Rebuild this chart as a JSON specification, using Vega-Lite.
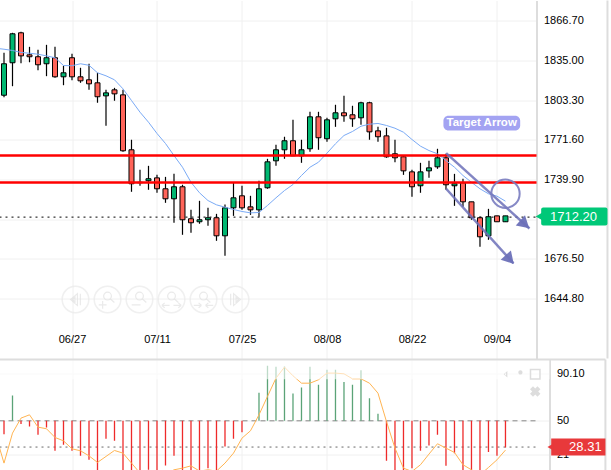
{"$schema":"https://vega.github.io/schema/vega-lite/v6.json","padding":{"left":-2.5,"top":-0.5,"right":0,"bottom":0},"background":"#ffffff","spacing":-1.5,"config":{"view":{"stroke":null},"font":"Liberation Sans"},
"datasets":{
"candles":[
{"i":0,"o":1807.1,"c":1832.2,"h":1840.9,"l":1805.5,"d":"up"},{"i":1,"o":1833.0,"c":1856.1,"h":1856.9,"l":1814.3,"d":"up"},{"i":2,"o":1856.9,"c":1838.5,"h":1857.7,"l":1832.6,"d":"down"},{"i":3,"o":1839.3,"c":1837.8,"h":1845.7,"l":1833.4,"d":"down"},{"i":4,"o":1837.8,"c":1831.4,"h":1843.3,"l":1827.1,"d":"down"},{"i":5,"o":1832.2,"c":1837.0,"h":1847.3,"l":1822.3,"d":"up"},{"i":6,"o":1837.0,"c":1821.8,"h":1845.7,"l":1821.0,"d":"down"},{"i":7,"o":1821.8,"c":1825.0,"h":1830.6,"l":1815.1,"d":"up"},{"i":8,"o":1837.0,"c":1821.8,"h":1840.1,"l":1819.1,"d":"down"},{"i":9,"o":1821.8,"c":1818.6,"h":1829.0,"l":1817.0,"d":"down"},
{"i":10,"o":1819.4,"c":1816.2,"h":1832.2,"l":1811.4,"d":"down"},{"i":11,"o":1817.0,"c":1805.9,"h":1825.0,"l":1801.1,"d":"down"},{"i":12,"o":1806.6,"c":1809.0,"h":1811.4,"l":1782.7,"d":"up"},{"i":13,"o":1811.4,"c":1808.2,"h":1813.0,"l":1802.7,"d":"down"},{"i":14,"o":1807.4,"c":1762.8,"h":1811.4,"l":1762.0,"d":"down"},{"i":15,"o":1763.6,"c":1736.5,"h":1771.6,"l":1730.1,"d":"down"},{"i":16,"o":1737.7,"c":1737.3,"h":1747.6,"l":1734.9,"d":"down"},{"i":17,"o":1738.9,"c":1740.5,"h":1750.8,"l":1731.7,"d":"up"},{"i":18,"o":1741.2,"c":1732.5,"h":1743.6,"l":1729.3,"d":"down"},{"i":19,"o":1732.5,"c":1724.5,"h":1742.0,"l":1721.3,"d":"down"},
{"i":20,"o":1724.5,"c":1734.1,"h":1744.4,"l":1705.4,"d":"up"},{"i":21,"o":1734.1,"c":1707.8,"h":1735.7,"l":1695.8,"d":"down"},{"i":22,"o":1708.6,"c":1705.4,"h":1715.7,"l":1697.4,"d":"down"},{"i":23,"o":1706.2,"c":1707.8,"h":1722.9,"l":1704.6,"d":"up"},{"i":24,"o":1707.8,"c":1709.4,"h":1717.3,"l":1703.0,"d":"up"},{"i":25,"o":1709.4,"c":1695.0,"h":1712.5,"l":1691.0,"d":"down"},{"i":26,"o":1695.0,"c":1717.3,"h":1720.0,"l":1679.0,"d":"up"},{"i":27,"o":1717.3,"c":1725.3,"h":1737.3,"l":1710.9,"d":"up"},{"i":28,"o":1726.9,"c":1717.3,"h":1734.9,"l":1715.7,"d":"down"},{"i":29,"o":1718.1,"c":1715.7,"h":1726.9,"l":1711.7,"d":"down"},
{"i":30,"o":1715.7,"c":1732.5,"h":1738.9,"l":1710.2,"d":"up"},{"i":31,"o":1733.3,"c":1754.0,"h":1756.4,"l":1732.5,"d":"up"},{"i":32,"o":1754.8,"c":1763.6,"h":1767.6,"l":1750.8,"d":"up"},{"i":33,"o":1763.6,"c":1770.8,"h":1774.0,"l":1756.4,"d":"up"},{"i":34,"o":1770.8,"c":1758.8,"h":1787.5,"l":1758.8,"d":"down"},{"i":35,"o":1758.8,"c":1763.6,"h":1771.6,"l":1753.2,"d":"up"},{"i":36,"o":1764.4,"c":1789.9,"h":1793.9,"l":1762.0,"d":"up"},{"i":37,"o":1789.9,"c":1773.2,"h":1793.9,"l":1763.6,"d":"down"},{"i":38,"o":1772.4,"c":1787.5,"h":1789.1,"l":1770.0,"d":"up"},{"i":39,"o":1788.3,"c":1793.1,"h":1799.5,"l":1781.9,"d":"up"},
{"i":40,"o":1793.1,"c":1790.7,"h":1806.6,"l":1785.9,"d":"down"},{"i":41,"o":1791.5,"c":1788.3,"h":1798.7,"l":1781.9,"d":"down"},{"i":42,"o":1789.1,"c":1801.1,"h":1801.9,"l":1783.5,"d":"up"},{"i":43,"o":1801.1,"c":1777.9,"h":1801.9,"l":1771.6,"d":"down"},{"i":44,"o":1778.7,"c":1774.0,"h":1781.9,"l":1770.0,"d":"down"},{"i":45,"o":1774.7,"c":1758.0,"h":1781.1,"l":1757.2,"d":"down"},{"i":46,"o":1760.4,"c":1757.2,"h":1771.6,"l":1753.7,"d":"down"},{"i":47,"o":1758.0,"c":1746.8,"h":1759.0,"l":1743.6,"d":"down"},{"i":48,"o":1746.0,"c":1734.1,"h":1747.6,"l":1726.1,"d":"down"},{"i":49,"o":1734.9,"c":1746.0,"h":1753.2,"l":1729.3,"d":"up"},
{"i":50,"o":1746.8,"c":1749.2,"h":1754.8,"l":1741.2,"d":"up"},{"i":51,"o":1750.0,"c":1757.2,"h":1764.4,"l":1748.4,"d":"up"},{"i":52,"o":1757.2,"c":1735.7,"h":1760.4,"l":1731.7,"d":"down"},{"i":53,"o":1734.9,"c":1736.5,"h":1744.4,"l":1718.9,"d":"up"},{"i":54,"o":1737.3,"c":1722.1,"h":1740.5,"l":1718.1,"d":"down"},{"i":55,"o":1722.1,"c":1709.4,"h":1722.1,"l":1707.8,"d":"down"},{"i":56,"o":1709.4,"c":1694.2,"h":1710.4,"l":1686.2,"d":"down"},{"i":57,"o":1695.0,"c":1710.2,"h":1716.5,"l":1691.8,"d":"up"},{"i":58,"o":1710.9,"c":1706.2,"h":1710.9,"l":1706.2,"d":"down"},{"i":59,"o":1706.2,"c":1710.9,"h":1710.9,"l":1706.2,"d":"up"}],
"ma":[{"i":-0.53,"p":1844.2},{"i":0,"p":1843.8},{"i":1,"p":1842.8},{"i":2,"p":1841.2},{"i":3,"p":1840.6},{"i":4,"p":1839.8},{"i":5,"p":1838.5},{"i":6,"p":1837.0},{"i":7,"p":1830.8},{"i":8,"p":1830.6},{"i":9,"p":1832.2},{"i":10,"p":1831.0},{"i":11,"p":1825.0},{"i":12,"p":1822.6},{"i":13,"p":1819.4},{"i":14,"p":1812.2},{"i":15,"p":1802.9},{"i":16,"p":1793.6},{"i":17,"p":1785.6},{"i":18,"p":1776.6},{"i":19,"p":1768.6},{"i":20,"p":1759.0},{"i":21,"p":1749.7},{"i":22,"p":1737.7},{"i":23,"p":1729.3},{"i":24,"p":1723.1},{"i":25,"p":1719.7},{"i":26,"p":1717.8},{"i":27,"p":1716.0},{"i":28,"p":1714.4},{"i":29,"p":1713.3},{"i":30,"p":1713.6},{"i":31,"p":1719.2},{"i":32,"p":1725.3},{"i":33,"p":1731.1},{"i":34,"p":1735.9},{"i":35,"p":1743.1},{"i":36,"p":1749.7},{"i":37,"p":1753.7},{"i":38,"p":1760.9},{"i":39,"p":1768.4},{"i":40,"p":1775.0},{"i":41,"p":1778.2},{"i":42,"p":1782.4},{"i":43,"p":1784.0},{"i":44,"p":1784.6},{"i":45,"p":1783.0},{"i":46,"p":1780.8},{"i":47,"p":1777.6},{"i":48,"p":1771.8},{"i":49,"p":1766.5},{"i":50,"p":1763.0},{"i":51,"p":1760.4},{"i":52,"p":1755.0},{"i":53,"p":1749.7},{"i":54,"p":1743.1},{"i":55,"p":1737.7},{"i":56,"p":1732.5},{"i":57,"p":1728.5},{"i":58,"p":1726.6},{"i":59,"p":1722.6}],
"hist":[{"i":0,"v":38.6},{"i":1,"v":71.6},{"i":2,"v":47.2},{"i":3,"v":45.2},{"i":4,"v":38.1},{"i":5,"v":44.3},{"i":6,"v":24.4},{"i":7,"v":29.5},{"i":8,"v":24.4},{"i":9,"v":20.1},{"i":10,"v":16.7},{"i":11,"v":3},{"i":12,"v":34.6},{"i":13,"v":32.9},{"i":14,"v":5},{"i":15,"v":5},{"i":16,"v":5},{"i":17,"v":8.2},{"i":18,"v":6.8},{"i":19,"v":11.9},{"i":20,"v":20.1},{"i":21,"v":7.4},{"i":22,"v":5},{"i":23,"v":7.6},{"i":24,"v":9.6},{"i":25,"v":7.6},{"i":26,"v":28.1},{"i":27,"v":34.6},{"i":28,"v":40.3},{"i":30,"v":73.9},{"i":31,"v":96.9},{"i":32,"v":96.1},{"i":33,"v":96.3},{"i":34,"v":73.3},{"i":35,"v":78.4},{"i":36,"v":96.1},{"i":37,"v":80.7},{"i":38,"v":93.5},{"i":39,"v":93.5},{"i":40,"v":83},{"i":41,"v":80.7},{"i":42,"v":93.2},{"i":43,"v":69.3},{"i":44,"v":56},{"i":45,"v":15.9},{"i":46,"v":5},{"i":47,"v":5},{"i":48,"v":9.6},{"i":49,"v":24.4},{"i":50,"v":29},{"i":51,"v":38.1},{"i":52,"v":11.6},{"i":53,"v":22.4},{"i":54,"v":5},{"i":55,"v":5},{"i":56,"v":5},{"i":57,"v":23.3},{"i":58,"v":20.1},{"i":59,"v":27.3}],
"osc":[{"i":-0.53,"p":27},{"i":0,"p":13.9},{"i":1,"p":39.5},{"i":2,"p":52.3},{"i":3,"p":55.1},{"i":4,"p":44.6},{"i":5,"p":43.2},{"i":6,"p":35.8},{"i":7,"p":32.9},{"i":8,"p":26.1},{"i":9,"p":24.4},{"i":10,"p":20.1},{"i":11,"p":14.5},{"i":12,"p":19.6},{"i":13,"p":24.7},{"i":14,"p":22.4},{"i":15,"p":13.9},{"i":16,"p":5.4},{"i":17,"p":-0.3},{"i":18,"p":-0.3},{"i":19,"p":3.9},{"i":20,"p":8.2},{"i":21,"p":9.6},{"i":22,"p":11.6},{"i":23,"p":7.1},{"i":24,"p":8.2},{"i":25,"p":7.1},{"i":26,"p":13.9},{"i":27,"p":22.4},{"i":28,"p":35.2},{"i":29,"p":41.5},{"i":30,"p":55.1},{"i":31,"p":70.8},{"i":32,"p":86.4},{"i":33,"p":95.8},{"i":34,"p":88.4},{"i":35,"p":82.1},{"i":36,"p":82.1},{"i":37,"p":85},{"i":38,"p":90.7},{"i":39,"p":90.7},{"i":40,"p":90.1},{"i":41,"p":85.8},{"i":42,"p":85.8},{"i":43,"p":82.1},{"i":44,"p":73.6},{"i":45,"p":49.4},{"i":46,"p":26.7},{"i":47,"p":9.6},{"i":48,"p":6.8},{"i":49,"p":12.5},{"i":50,"p":21.6},{"i":51,"p":30.4},{"i":52,"p":26.7},{"i":53,"p":23},{"i":54,"p":12.5},{"i":55,"p":8.2},{"i":56,"p":3.9},{"i":57,"p":10.2},{"i":58,"p":16.7},{"i":59,"p":25}],
"buttons":[{"i":8.41,"p":1644.2,"n":"prev"},{"i":12.18,"p":1644.2,"n":"in"},{"i":15.94,"p":1644.2,"n":"out"},{"i":19.71,"p":1644.2,"n":"wide"},{"i":23.47,"p":1644.2,"n":"narrow"},{"i":27.24,"p":1644.2,"n":"next"}],
"hatchTop":[{"p":1882.6,"p2":1901.8},{"p":1877.9,"p2":1897},{"p":1873.1,"p2":1892.2},{"p":1868.3,"p2":1887.4},{"p":1863.5,"p2":1882.6},{"p":1858.7,"p2":1877.9},{"p":1853.9,"p2":1873.1},{"p":1849.2,"p2":1868.3},{"p":1844.4,"p2":1863.5},{"p":1839.6,"p2":1858.7},{"p":1834.8,"p2":1853.9},{"p":1830,"p2":1849.2},{"p":1825.2,"p2":1844.4},{"p":1820.4,"p2":1839.6},{"p":1815.7,"p2":1834.8},{"p":1810.9,"p2":1830},{"p":1806.1,"p2":1825.2},{"p":1801.3,"p2":1820.4},{"p":1796.5,"p2":1815.7},{"p":1791.7,"p2":1810.9},{"p":1787,"p2":1806.1},{"p":1782.2,"p2":1801.3},{"p":1777.4,"p2":1796.5},{"p":1772.6,"p2":1791.7},{"p":1767.8,"p2":1787},{"p":1763,"p2":1782.2},{"p":1758.2,"p2":1777.4},{"p":1753.5,"p2":1772.6},{"p":1748.7,"p2":1767.8},{"p":1743.9,"p2":1763},{"p":1739.1,"p2":1758.2},{"p":1734.3,"p2":1753.5},{"p":1729.5,"p2":1748.7},{"p":1724.8,"p2":1743.9},{"p":1720,"p2":1739.1},{"p":1715.2,"p2":1734.3},{"p":1710.4,"p2":1729.5},{"p":1705.6,"p2":1724.8},{"p":1700.8,"p2":1720},{"p":1696,"p2":1715.2},{"p":1691.3,"p2":1710.4},{"p":1686.5,"p2":1705.6},{"p":1681.7,"p2":1700.8},{"p":1676.9,"p2":1696},{"p":1672.1,"p2":1691.3},{"p":1667.3,"p2":1686.5},{"p":1662.6,"p2":1681.7},{"p":1657.8,"p2":1676.9},{"p":1653,"p2":1672.1},{"p":1648.2,"p2":1667.3},{"p":1643.4,"p2":1662.6},{"p":1638.6,"p2":1657.8},{"p":1633.8,"p2":1653},{"p":1629.1,"p2":1648.2},{"p":1624.3,"p2":1643.4},{"p":1619.5,"p2":1638.6},{"p":1614.7,"p2":1633.8},{"p":1609.9,"p2":1629.1},{"p":1605.1,"p2":1624.3},{"p":1600.4,"p2":1619.5},{"p":1595.6,"p2":1614.7},{"p":1590.8,"p2":1609.9},{"p":1586,"p2":1605.1},{"p":1581.2,"p2":1600.4}],
"hatchBottom":[{"p":102.3,"p2":132.2},{"p":97.2,"p2":127.1},{"p":92.1,"p2":122},{"p":86.9,"p2":116.8},{"p":81.8,"p2":111.7},{"p":76.7,"p2":106.6},{"p":71.6,"p2":101.5},{"p":66.5,"p2":96.4},{"p":61.4,"p2":91.3},{"p":56.2,"p2":86.1},{"p":51.1,"p2":81},{"p":46,"p2":75.9},{"p":40.9,"p2":70.8},{"p":35.8,"p2":65.7},{"p":30.6,"p2":60.5},{"p":25.5,"p2":55.4},{"p":20.4,"p2":50.3},{"p":15.3,"p2":45.2},{"p":10.2,"p2":40.1},{"p":5.1,"p2":35},{"p":0,"p2":29.9},{"p":-5.1,"p2":24.8},{"p":-10.3,"p2":19.6},{"p":-15.4,"p2":14.5},{"p":-20.5,"p2":9.4}]
},
"vconcat":[
{"width":537,"height":358,
"encoding":{
"x":{"field":"i","type":"quantitative","title":null,"scale":{"domain":[-0.53,62.65],"nice":false,"zero":false,"padding":0},"axis":{"values":[8,18,28,38,48,58],"labelExpr":"datum.value==8?'06/27':datum.value==18?'07/11':datum.value==28?'07/25':datum.value==38?'08/08':datum.value==48?'08/22':'09/04'","grid":true,"gridColor":"#f0f0f0","gridWidth":1,"domain":false,"ticks":false,"labelPadding":-25,"labelFontSize":11,"labelColor":"#000000","labelAngle":0,"labelFont":"Liberation Sans","minExtent":0,"maxExtent":0}},
"y":{"field":"p","type":"quantitative","title":null,"scale":{"domain":[1597.15,1882.65],"nice":false,"zero":false,"padding":0},"axis":{"orient":"right","values":[1866.7,1835,1803.3,1771.6,1739.9,1708.2,1676.5,1644.8],"format":".2f","grid":true,"gridColor":"#f0f0f0","gridWidth":1,"domain":true,"domainColor":"#dddddd","domainWidth":2,"ticks":false,"labelPadding":7,"labelFontSize":11,"labelColor":"#000000","labelFont":"Liberation Sans"}}
},
"layer":[
{"data":{"name":"hatchTop"},"mark":{"type":"rule","color":"#eeeeee","strokeWidth":1,"clip":true},"encoding":{"x":{"datum":59.8,"type":"quantitative","title":null},"x2":{"datum":62.65},"y2":{"field":"p2"}}},
{"data":{"values":[{"i":-0.53,"i2":62.65,"p":1709.9}]},"mark":{"type":"rule","color":"#000000","strokeWidth":1,"strokeDash":[2,4]},"encoding":{"x2":{"field":"i2"}}},
{"data":{"name":"candles"},"mark":{"type":"rule","color":"#000000","strokeWidth":1.2},"encoding":{"y":{"field":"l","type":"quantitative","title":null},"y2":{"field":"h"}}},
{"data":{"name":"candles"},"mark":{"type":"bar","size":5,"stroke":"#000000","strokeWidth":1},"encoding":{"y":{"field":"o","type":"quantitative","title":null},"y2":{"field":"c"},"color":{"field":"d","type":"nominal","legend":null,"scale":{"domain":["down","up"],"range":["#ff6459","#00b771"]}}}},
{"data":{"name":"ma"},"mark":{"type":"line","color":"#7aaaf5","strokeWidth":1,"clip":true}},
{"data":{"values":[{"i":-0.53,"i2":62.65,"p":1759.0},{"i":-0.53,"i2":62.65,"p":1737.5}]},"mark":{"type":"rule","color":"#ff0000","strokeWidth":2.4},"encoding":{"x2":{"field":"i2"}}},
{"data":{"values":[{"i":52.02,"p":1760.9,"i2":61.82,"p2":1700.8},{"i":52.02,"p":1732.5,"i2":59.94,"p2":1673.1}]},"mark":{"type":"rule","color":"#6c70b8","strokeWidth":2.5,"opacity":0.85},"encoding":{"x2":{"field":"i2"},"y2":{"field":"p2"}}},
{"data":{"values":[{"i":61.1,"p":1705.2,"a":132},{"i":59.35,"p":1677.3,"a":138}]},"mark":{"type":"point","shape":"triangle","filled":true,"size":190,"color":"#6c70b8","opacity":0.95},"encoding":{"angle":{"field":"a","type":"quantitative","scale":null}}},
{"data":{"values":[{"i":59.0,"p":1728.5}]},"mark":{"type":"point","shape":"circle","size":804,"color":"#7a7dc0","strokeWidth":2,"filled":false,"opacity":0.9}},
{"data":{"values":[{"i":51.7,"i2":60.73,"p":1790.7,"p2":1779.0}]},"mark":{"type":"bar","color":"#a3a3f2","cornerRadius":5},"encoding":{"x2":{"field":"i2"},"y2":{"field":"p2"}}},
{"data":{"values":[{"i":56.2,"p":1785,"t":"Target Arrow"}]},"mark":{"type":"text","color":"#ffffff","fontWeight":"bold","fontSize":11.5,"align":"center","baseline":"middle"},"encoding":{"text":{"field":"t"}}},
{"data":{"name":"buttons"},"mark":{"type":"point","shape":"circle","size":707,"filled":false,"color":"#eaeaea","strokeWidth":1.5}},
{"data":{"name":"buttons"},"mark":{"type":"point","filled":false,"size":380,"color":"#e2e2e2","strokeWidth":1.2},"encoding":{"shape":{"field":"n","type":"nominal","legend":null,"scale":{"domain":["prev","in","out","wide","narrow","next"],"range":["M0.2,-0.6L-0.5,0L0.2,0.6ZM-0.05,-0.3L-0.05,0.3L-0.3,0ZM0.5,-0.6V0.6","M-0.4,-0.35a0.4,0.4 0 1,0 0.8,0a0.4,0.4 0 1,0 -0.8,0M0.28,-0.07L0.7,0.3M-0.9,0.55H-0.1M-0.5,0.15V0.95","M-0.4,-0.35a0.4,0.4 0 1,0 0.8,0a0.4,0.4 0 1,0 -0.8,0M0.28,-0.07L0.7,0.3M-0.8,0.55H0.1","M-0.4,-0.35a0.4,0.4 0 1,0 0.8,0a0.4,0.4 0 1,0 -0.8,0M0.28,-0.07L0.7,0.3M-1,0.6H-0.2M-1,0.6L-0.7,0.35M-1,0.6L-0.7,0.85M0.2,0.6H1M1,0.6L0.7,0.35M1,0.6L0.7,0.85","M-0.4,-0.35a0.4,0.4 0 1,0 0.8,0a0.4,0.4 0 1,0 -0.8,0M0.28,-0.07L0.7,0.3M-1,0.6H-0.2M-0.2,0.6L-0.5,0.35M-0.2,0.6L-0.5,0.85M0.2,0.6H1M0.2,0.6L0.5,0.35M0.2,0.6L0.5,0.85","M-0.2,-0.6L0.5,0L-0.2,0.6ZM0.05,-0.3L0.05,0.3L0.3,0ZM-0.5,-0.6V0.6"]}}}},
{"data":{"values":[{"i":71,"p":1597.15,"p2":1882.65}]},"mark":{"type":"rule","color":"#dddddd","strokeWidth":2},"encoding":{"y2":{"field":"p2"}}},
{"data":{"values":[{"i":63.2,"i2":71,"p":1717.6,"p2":1703.2}]},"mark":{"type":"bar","color":"#00c878","cornerRadius":2},"encoding":{"x2":{"field":"i2"},"y2":{"field":"p2"}}},
{"data":{"values":[{"i":62.95,"p":1710.4}]},"mark":{"type":"point","shape":"triangle-left","filled":true,"size":60,"color":"#00c878","opacity":1}},
{"data":{"values":[{"i":67,"p":1710.2,"t":"1712.20"}]},"mark":{"type":"text","color":"#ffffff","fontSize":13,"align":"center","baseline":"middle"},"encoding":{"text":{"field":"t"}}}
]},
{"width":550,"height":112,
"encoding":{
"x":{"field":"i","type":"quantitative","title":null,"scale":{"domain":[-0.53,64.18],"nice":false,"zero":false,"padding":0},"axis":{"values":[8,18,28,38,48,58],"labels":false,"grid":true,"gridColor":"#f0f0f0","gridWidth":1,"domain":false,"ticks":false,"minExtent":0,"maxExtent":0}},
"y":{"field":"p","type":"quantitative","title":null,"scale":{"domain":[6.75,102.3],"nice":false,"zero":false,"padding":0},"axis":{"orient":"right","values":[90.1,50,21.24],"labelExpr":"datum.value==90.1?'90.10':datum.label","grid":true,"gridColor":"#f0f0f0","gridWidth":1,"domain":true,"domainColor":"#dddddd","domainWidth":2,"ticks":false,"labelPadding":7,"labelFontSize":11,"labelColor":"#000000","labelFont":"Liberation Sans"}}
},
"layer":[
{"data":{"name":"hatchBottom"},"mark":{"type":"rule","color":"#eeeeee","strokeWidth":1,"clip":true},"encoding":{"x":{"datum":59.8,"type":"quantitative","title":null},"x2":{"datum":63.95},"y2":{"field":"p2"}}},
{"data":{"values":[{"i":-0.53,"i2":62.9,"p":50}]},"mark":{"type":"rule","color":"#888888","strokeWidth":1,"strokeDash":[5,4]},"encoding":{"x2":{"field":"i2"}}},
{"data":{"values":[{"i":-0.53,"i2":62.65,"p":27.6}]},"mark":{"type":"rule","color":"#666666","strokeWidth":1,"strokeDash":[2,4]},"encoding":{"x2":{"field":"i2"}}},
{"data":{"name":"hist"},"transform":[{"filter":"datum.v<50"}],"mark":{"type":"rule","color":"#ee2a2a","strokeWidth":1.3,"clip":true},"encoding":{"y":{"field":"v","type":"quantitative","title":null},"y2":{"datum":50}}},
{"data":{"name":"hist"},"transform":[{"filter":"datum.v>50"}],"mark":{"type":"rule","color":"#5aa377","strokeWidth":1.3,"clip":true},"encoding":{"y":{"field":"v","type":"quantitative","title":null},"y2":{"datum":50}}},
{"data":{"name":"osc"},"mark":{"type":"line","color":"#ffb452","strokeWidth":1,"clip":true}},
{"data":{"values":[{"i":-0.53,"i2":64.18,"p":85.4,"p2":102.3}]},"mark":{"type":"bar","fill":"#ffffff","opacity":0.6},"encoding":{"x2":{"field":"i2"},"y2":{"field":"p2"}}},
{"data":{"values":[{"i":59.1,"p":89.7,"n":"a"},{"i":60.76,"p":89.7,"n":"b"}]},"mark":{"type":"point","filled":true,"size":110,"color":"#dddddd","opacity":1},"encoding":{"shape":{"field":"n","type":"nominal","legend":null,"scale":{"domain":["a","b"],"range":["M-0.85,-0.55H0.85L0,0.6Z","M-0.85,0.55H0.85L0,-0.6Z"]}}}},
{"data":{"values":[{"i":62.5,"p":89.7}]},"mark":{"type":"point","shape":"square","filled":false,"size":90,"color":"#dddddd","strokeWidth":1.5,"opacity":1}},
{"data":{"values":[{"i":62.5,"p":75}]},"mark":{"type":"point","shape":"cross","filled":true,"size":110,"color":"#dddddd","opacity":1,"angle":45}},
{"data":{"values":[{"i":-0.53,"i2":70.76,"p":102.3}]},"mark":{"type":"rule","color":"#dddddd","strokeWidth":2},"encoding":{"x2":{"field":"i2"}}},
{"data":{"values":[{"i":70.76,"p":6.75,"p2":102.3}]},"mark":{"type":"rule","color":"#dddddd","strokeWidth":2},"encoding":{"y2":{"field":"p2"}}},
{"data":{"values":[{"i":64.38,"i2":70.76,"p":34.9,"p2":20.4}]},"mark":{"type":"bar","color":"#e8393b"},"encoding":{"x2":{"field":"i2"},"y2":{"field":"p2"}}},
{"data":{"values":[{"i":64.3,"p":27.6}]},"mark":{"type":"point","shape":"triangle-left","filled":true,"size":50,"color":"#e8393b","opacity":1}},
{"data":{"values":[{"i":68.4,"p":27.5,"t":"28.31"}]},"mark":{"type":"text","color":"#ffffff","fontSize":13,"align":"center","baseline":"middle"},"encoding":{"text":{"field":"t"}}}
]}
]}
